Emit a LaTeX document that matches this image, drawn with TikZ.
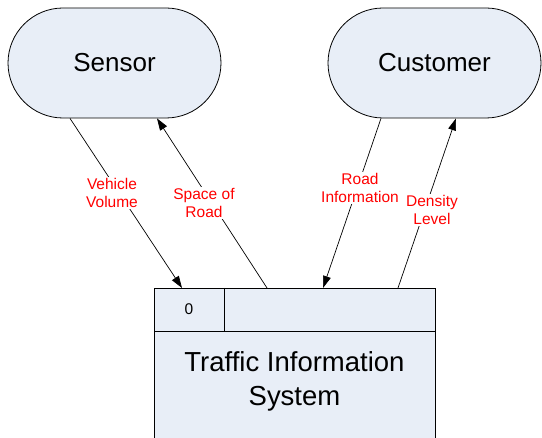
\documentclass[tikz,border=0pt]{standalone}
\usepackage{fontspec}
\setmainfont{Liberation Sans}
\usetikzlibrary{calc,arrows.meta}
\definecolor{boxfill}{RGB}{232,238,247}
\tikzset{
  entity/.style={draw=black, line width=0.8pt, fill=boxfill, rounded corners=55pt,
    minimum width=213pt, minimum height=110pt, inner sep=0pt, font=\fontsize{26}{30}\selectfont},
  procbox/.style={draw=black, line width=0.8pt, fill=boxfill, inner sep=0pt},
  flow/.style={draw=black, line width=0.7pt, -{Triangle[length=12pt,width=8pt]}},
  flowlabel/.style={fill=white, text=red, align=center, inner xsep=3.5pt, inner ysep=1pt,
    font=\fontsize{15.5}{18.5}\selectfont},
}
\begin{document}
\begin{tikzpicture}[x=1pt,y=-1pt]
\useasboundingbox (0,0) rectangle (542,438);
\clip (0,0) rectangle (542,438);
\fill[white] (0,0) rectangle (542,438);
% entities
\node[entity] (sensor) at (114.5,63) {Sensor};
\node[entity] (customer) at (434.5,63) {Customer};
% process box
\node[procbox, minimum width=281pt, minimum height=190pt, anchor=north west] (tis) at (154,288) {};
\coordinate (divl) at ($(tis.north west)+(0,43)$);
\coordinate (divr) at ($(tis.north east)+(0,43)$);
\coordinate (vtop) at ($(tis.north west)+(70,0)$);
\coordinate (vbot) at ($(tis.north west)+(70,43)$);
\draw[line width=0.8pt] (divl) -- (divr);
\draw[line width=0.8pt] (vtop) -- (vbot);
\node[font=\fontsize{15.5}{18}\selectfont] (pid) at (189,309.5) {0};
\node[align=center, font=\fontsize{27.5}{34}\selectfont] (pname) at (294.5,381) {Traffic Information\\System};
% connection points
\coordinate (s1) at ($(sensor.south)+(-44.5,0)$);
\coordinate (s2) at ($(sensor.south)+(42.5,0)$);
\coordinate (c1) at ($(customer.south)+(-53.5,0)$);
\coordinate (c2) at ($(customer.south)+(21.5,0)$);
\coordinate (t1) at ($(tis.north west)+(28,0)$);
\coordinate (t2) at ($(tis.north west)+(113,0)$);
\coordinate (t3) at ($(tis.north west)+(169,0)$);
\coordinate (t4) at ($(tis.north west)+(244,0)$);
% flows
\draw[flow] (s1) -- (t1);
\draw[flow] (t2) -- (s2);
\draw[flow] (c1) -- (t3);
\draw[flow] (t4) -- (c2);
% labels
\node[flowlabel] (lvv) at (112,193) {Vehicle\\Volume};
\node[flowlabel] (lsr) at (204,203) {Space of\\Road};
\node[flowlabel] (lri) at (360,188) {Road\\Information};
\node[flowlabel, inner xsep=8pt] (ldl) at (432,210) {Density\\Level};
\end{tikzpicture}
\end{document}
